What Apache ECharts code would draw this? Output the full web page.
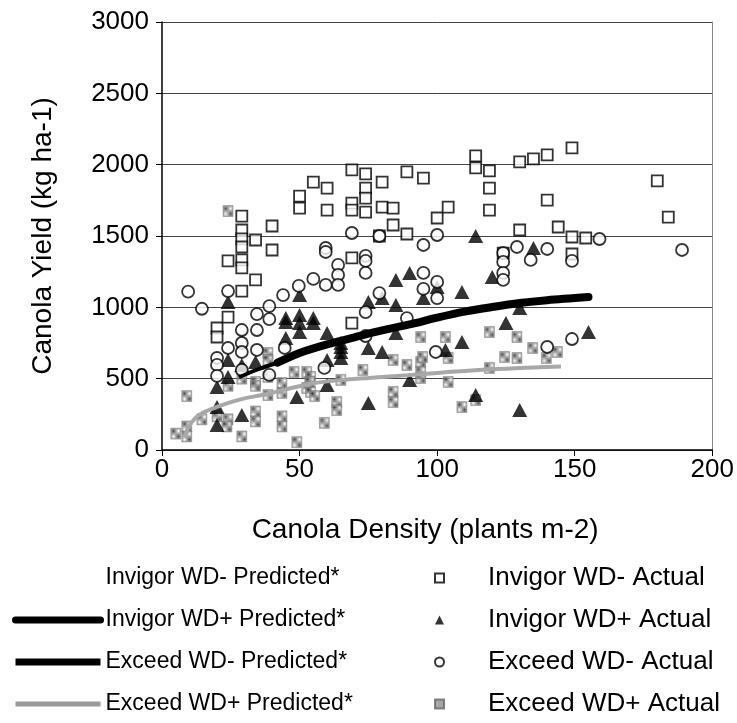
<!DOCTYPE html>
<html>
<head>
<meta charset="utf-8">
<script src="https://cdn.jsdelivr.net/npm/echarts@6/dist/echarts.min.js"></script>
<style>
  html, body { margin: 0; padding: 0; background: #fff; }
  #chart { width: 737px; height: 723px; }
</style>
</head>
<body>
<div id="chart"></div>
<script>
// Canola yield vs. canola density: fitted curves and observed plots
const xTicks = [0, 50, 100, 150, 200];
const yTicks = [0, 500, 1000, 1500, 2000, 2500, 3000];

// Fitted (predicted) curves, [density, yield]
const invigorMinusPred = [];
const invigorPlusPred = [[42,612],[50,680],[60,740],[70,790],[80,838],[90,880],[100,928],[110,970],[120,1002],[130,1030],[140,1050],[155,1072]];
const exceedMinusPred = [[28,510],[35,566],[42,612],[50,676],[60,736],[70,786],[80,833],[90,876],[100,922],[110,964],[120,998],[130,1025],[140,1045],[152,1062]];
const exceedPlusPred = [[8,90],[10,170],[12,222],[15,262],[20,302],[25,336],[30,362],[38,392],[45,425],[55,468],[65,490],[75,505],[85,518],[95,532],[105,548],[115,560],[125,570],[135,578],[145,585]];

// Observed plots, [density, yield]
const invigorMinusActual = [[20,855],[20,792],[24,932],[24,1325],[29,1640],[29,1542],[29,1480],[29,1423],[29,1332],[29,1276],[29,1114],[34,1472],[34,1192],[40,1570],[40,1402],[50,1780],[50,1696],[55,1878],[60,1836],[60,1682],[69,1963],[69,1731],[69,1682],[69,1346],[69,890],[74,1935],[74,1836],[74,1766],[74,1668],[80,1878],[80,1703],[79,1500],[84,1696],[84,1577],[89,1949],[95,1906],[89,1514],[100,1626],[104,1703],[114,2061],[114,1977],[119,1956],[119,1836],[119,1682],[124,1380],[130,2019],[135,2040],[130,1542],[140,2068],[149,2117],[140,1752],[144,1563],[149,1493],[154,1486],[149,1374],[180,1886],[184,1633]];
const invigorPlusActual = [[20,442],[20,301],[20,175],[24,1037],[24,631],[24,512],[29,596],[29,245],[34,617],[45,925],[45,897],[45,785],[49,371],[50,1086],[50,946],[50,890],[50,827],[55,925],[55,890],[60,820],[60,631],[60,456],[65,750],[65,722],[65,687],[65,645],[75,1037],[75,715],[75,329],[80,1065],[80,687],[85,1192],[85,1016],[85,820],[90,1241],[90,491],[95,1065],[100,1143],[103,701],[109,1108],[109,757],[114,1500],[114,385],[120,1213],[125,890],[130,995],[130,280],[135,1416],[155,827]];
const exceedMinusActual = [[9.5,1110],[14.5,990],[20,645],[20,596],[20,519],[24,1114],[24,715],[29,841],[29,750],[29,687],[29,561],[34.5,953],[34.5,841],[34.5,701],[39,1009],[39,918],[39,526],[44,1086],[44.6,715],[49.7,1150],[55,1199],[59.5,1157],[59.5,1416],[59.5,1388],[59,575],[64,1297],[64,1227],[64,1157],[69,1521],[74,1360],[74,1325],[74,1241],[74,967],[74,799],[79,1100],[79,1500],[89,925],[95,1437],[95,1241],[95,1129],[100,1507],[100,1178],[100,1065],[99.5,687],[124,1381],[124,1318],[124,1241],[124,1192],[129,1423],[134,1332],[140,1409],[149,1325],[159,1479],[189,1402],[149,778],[140,722]];
const exceedPlusActual = [[5,115],[9,378],[9,165],[9,95],[14.5,215],[20,236],[24,1675],[24,450],[24,215],[23.6,165],[29,500],[29,95],[34,477],[34,450],[34,270],[34,200],[38.5,680],[38.5,631],[38.5,512],[38.5,385],[43.6,470],[43.6,400],[43.6,236],[43.6,165],[48,547],[49,55],[52.6,547],[54,512],[52.6,435],[54,407],[55.5,378],[53.7,477],[63.5,336],[63.5,280],[59,190],[73,561],[65,491],[84,631],[84,407],[84,336],[89,596],[94,617],[94,547],[94,505],[94,792],[103,792],[104,477],[119,827],[129,792],[124.5,652],[129,645],[134.7,715],[139.7,645],[143.7,687],[119,575],[109,301],[114,350],[94.7,652],[104,645]];

const names = {
  imPred: 'Invigor WD- Predicted*',
  ipPred: 'Invigor WD+ Predicted*',
  emPred: 'Exceed WD- Predicted*',
  epPred: 'Exceed WD+ Predicted*',
  imAct: 'Invigor WD- Actual',
  ipAct: 'Invigor WD+ Actual',
  emAct: 'Exceed WD- Actual',
  epAct: 'Exceed WD+ Actual'
};

// Dithered fill for the stippled markers
function stipple() {
  const c = document.createElement('canvas');
  c.width = 2; c.height = 2;
  const g = c.getContext('2d');
  g.fillStyle = '#fff'; g.fillRect(0, 0, 2, 2);
  g.fillStyle = '#222'; g.fillRect(0, 0, 1, 1); g.fillRect(1, 1, 1, 1);
  return { image: c, repeat: 'repeat' };
}
const stippleFill = stipple();

const FONT = '"Liberation Sans", Arial, sans-serif';
const chart = echarts.init(document.getElementById('chart'), null, { renderer: 'canvas' });

chart.setOption({
  animation: false,
  backgroundColor: '#fff',
  textStyle: { fontFamily: FONT, color: '#000' },
  grid: { left: 162, right: 24, top: 22, bottom: 273, containLabel: false },
  xAxis: {
    type: 'value', min: xTicks[0], max: xTicks[xTicks.length - 1], interval: 50,
    name: 'Canola Density (plants m-2)', nameLocation: 'middle', nameGap: 66,
    nameTextStyle: { fontSize: 28, fontFamily: FONT, color: '#000', padding: [0, 24, 0, 0] },
    axisLine: { show: true, onZero: false, lineStyle: { color: '#000', width: 1.5 } },
    axisTick: { show: true, length: 6, lineStyle: { color: '#000' } },
    axisLabel: { fontSize: 26, color: '#000', fontFamily: FONT, margin: 7, formatter: v => String(v) },
    splitLine: { show: false }
  },
  yAxis: [{
    type: 'value', min: yTicks[0], max: yTicks[yTicks.length - 1], interval: 500,
    name: 'Canola Yield (kg ha-1)', nameLocation: 'middle', nameGap: 105,
    nameTextStyle: { fontSize: 28, fontFamily: FONT, color: '#000' },
    axisLine: { show: true, onZero: false, lineStyle: { color: '#000', width: 1.5 } },
    axisTick: { show: true, length: 6, lineStyle: { color: '#000' } },
    axisLabel: { fontSize: 26, color: '#000', fontFamily: FONT, margin: 13, formatter: v => String(v) },
    splitLine: { show: true, lineStyle: { color: '#444', width: 1 } }
  }, {
    type: 'value', position: 'right', min: yTicks[0], max: yTicks[yTicks.length - 1], interval: 500,
    axisLine: { show: true, onZero: false, lineStyle: { color: '#888', width: 1 } },
    axisTick: { show: false }, axisLabel: { show: false }, splitLine: { show: false }
  }],
  legend: [{
    orient: 'vertical', left: 12, top: 566, height: 157, padding: 0, itemWidth: 85, itemHeight: 8, itemGap: 18,
    textStyle: { fontSize: 23, fontFamily: FONT, color: '#000', lineHeight: 24 },
    data: [
      { name: names.imPred, lineStyle: { opacity: 0 }, itemStyle: { opacity: 0 } },
      { name: names.ipPred, lineStyle: { width: 7, color: '#000', cap: 'round' }, itemStyle: { opacity: 0 } },
      { name: names.emPred, lineStyle: { width: 7, color: '#000' }, itemStyle: { opacity: 0 } },
      { name: names.epPred, lineStyle: { width: 5, color: '#9a9a9a' }, itemStyle: { opacity: 0 } }
    ]
  }, {
    orient: 'vertical', left: 434, top: 565, height: 158, padding: 0, itemWidth: 9, itemHeight: 9, itemGap: 16,
    textStyle: { fontSize: 26, fontFamily: FONT, color: '#000', lineHeight: 24, padding: [0, 0, 0, 39] },
    data: [names.imAct, names.ipAct, names.emAct, names.epAct]
  }],
  series: [
    {
      name: names.epAct, type: 'scatter', data: exceedPlusActual, symbol: 'rect', symbolSize: [10, 11], z: 2,
      itemStyle: { color: stippleFill, borderColor: '#666', borderWidth: 0.5 }
    },
    {
      name: names.imAct, type: 'scatter', data: invigorMinusActual, symbol: 'rect', symbolSize: 11, z: 3,
      itemStyle: { color: '#fff', borderColor: '#000', borderWidth: 1.8 }
    },
    {
      name: names.ipAct, type: 'scatter', data: invigorPlusActual, symbol: 'triangle', symbolSize: [15, 14], z: 4,
      itemStyle: { color: '#000' }
    },
    {
      name: names.emAct, type: 'scatter', data: exceedMinusActual, symbol: 'circle', symbolSize: 12, z: 5,
      itemStyle: { color: '#fff', borderColor: '#000', borderWidth: 1.8 }
    },
    {
      name: names.imPred, type: 'line', data: invigorMinusPred, symbol: 'none', z: 6,
      itemStyle: { color: '#fff' }, lineStyle: { opacity: 0 }
    },
    {
      name: names.epPred, type: 'line', data: exceedPlusPred, symbol: 'none', smooth: 0.3, z: 6,
      itemStyle: { color: '#a8a8a8' }, lineStyle: { width: 4, color: '#a8a8a8' }
    },
    {
      name: names.emPred, type: 'line', data: exceedMinusPred, symbol: 'none', smooth: 0.3, z: 7,
      itemStyle: { color: '#000' }, lineStyle: { width: 4, color: '#000' }
    },
    {
      name: names.ipPred, type: 'line', data: invigorPlusPred, symbol: 'none', smooth: 0.3, z: 8,
      itemStyle: { color: '#000' }, lineStyle: { width: 8, color: '#000', cap: 'round' }
    }
  ]
});
</script>
</body>
</html>
